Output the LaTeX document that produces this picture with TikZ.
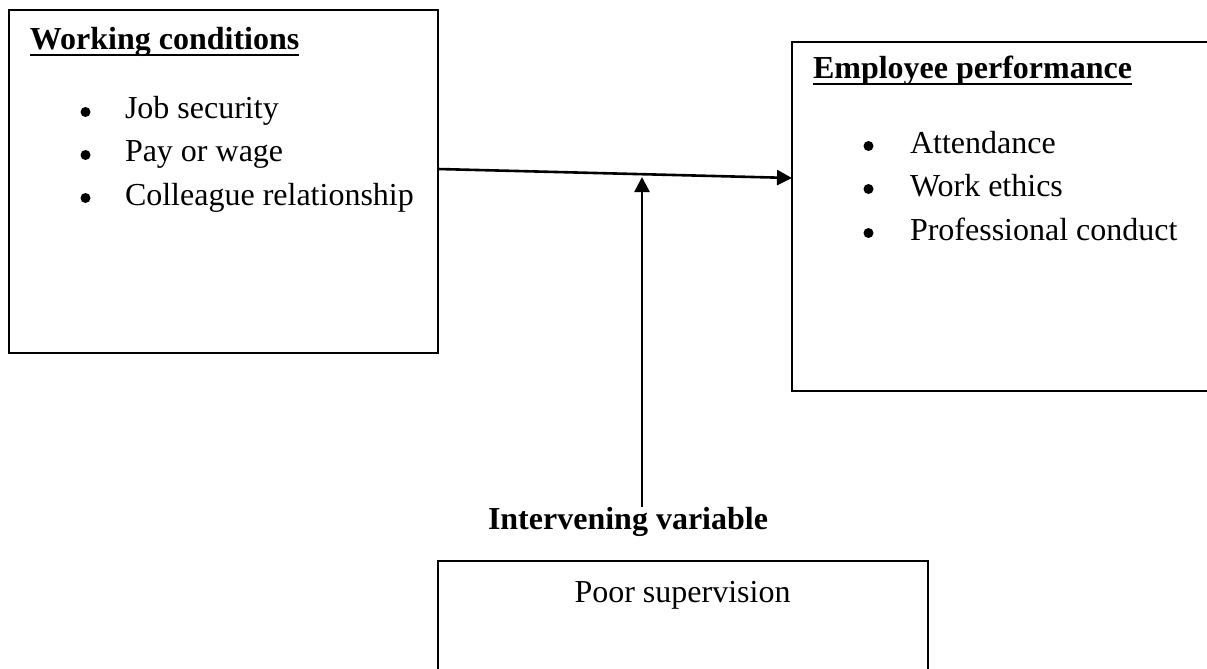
\documentclass[tikz,border=0pt]{standalone}
\usepackage{fontspec}
\setmainfont{Liberation Serif}
\usetikzlibrary{arrows.meta}
\begin{document}
\begin{tikzpicture}[x=0.5pt,y=-0.5pt,
  box/.style={draw, line width=1pt, inner sep=0pt, outer sep=0pt, anchor=north west},
  txt/.style={inner sep=0pt, outer sep=0pt, anchor=base west, font=\fontsize{16}{19}\selectfont},
  hdr/.style={txt, font=\fontsize{16}{19}\selectfont\bfseries},
  bul/.style={circle, fill=black, inner sep=0pt, minimum size=5pt},
  conn/.style={line width=1.3pt, -{Triangle[length=7.5pt,width=7.5pt]}},
  uline/.style={line width=1pt}]
\useasboundingbox (0,0) rectangle (1207,669);
\clip (0,0) rectangle (1207,669);
% boxes
\node[box, minimum width=214.5pt, minimum height=171.5pt] (wc) at (9,10) {};
\node[box, minimum width=222pt, minimum height=174.5pt] (ep) at (792,42) {};
\node[box, minimum width=245pt, minimum height=70pt] (ps) at (438,561) {};
% left box text
\node[hdr] (wch) at (30,49) {Working conditions};
\draw[uline] ([yshift=-3pt]wch.base west) -- ([yshift=-3pt]wch.base east);
\node[bul] (b1) at (85.5,112) {};
\node[txt] (t1) at (125,119) {Job security};
\node[bul] (b2) at (85.5,155) {};
\node[txt] (t2) at (125,162) {Pay or wage};
\node[bul] (b3) at (85.5,198) {};
\node[txt] (t3) at (125,205) {Colleague relationship};
% right box text
\node[hdr] (eph) at (813,78) {Employee performance};
\draw[uline] ([yshift=-3pt]eph.base west) -- ([yshift=-3pt]eph.base east);
\node[bul] (b4) at (868.5,146) {};
\node[txt] (t4) at (910,153) {Attendance};
\node[bul] (b5) at (868.5,189) {};
\node[txt] (t5) at (910,196) {Work ethics};
\node[bul] (b6) at (868.5,233) {};
\node[txt] (t6) at (910,240) {Professional conduct};
% intervening
\node[hdr] (iv) at (488,529) {Intervening variable};
\node[txt, anchor=base] (pst) at (682.5,602) {Poor supervision};
% connectors
\coordinate (hs) at (wc.east |- 0,169);
\coordinate (he) at (ep.west |- 0,178);
\draw[conn] (hs) -- (he);
\coordinate (vs) at (642,507);
\coordinate (ve) at (642,177);
\draw[conn] (vs) -- (ve);
\end{tikzpicture}
\end{document}
